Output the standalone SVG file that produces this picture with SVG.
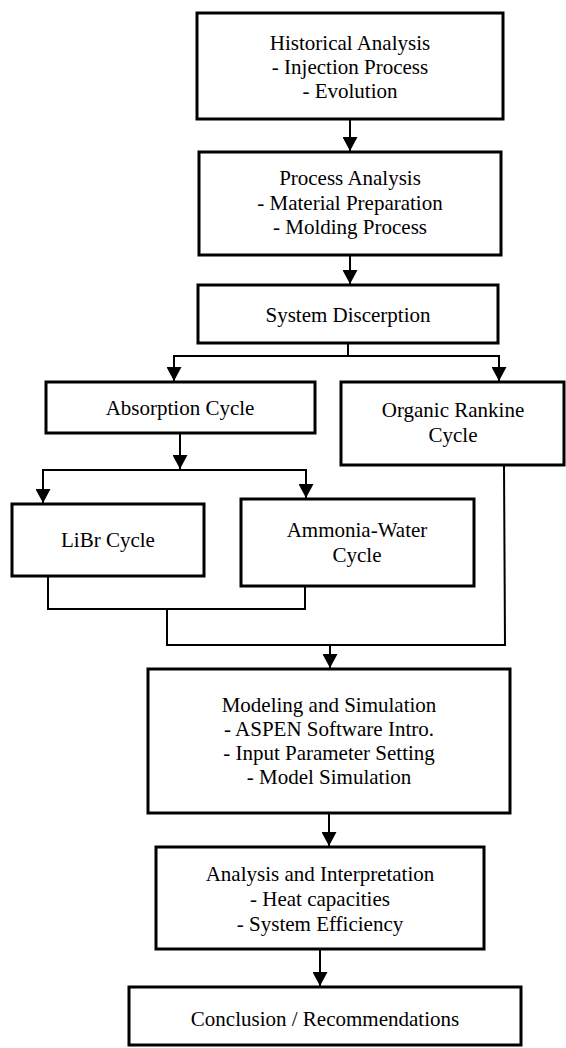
<svg xmlns="http://www.w3.org/2000/svg" width="566" height="1048" viewBox="0 0 566 1048">
<style>
.box{fill:#fff;stroke:#000;stroke-width:3}
.t{font-family:"Liberation Serif","Times New Roman",serif;font-size:21px;fill:#000;text-anchor:middle}
.c{fill:none;stroke:#000;stroke-width:2}
</style>
<defs>
<marker id="ah" markerUnits="userSpaceOnUse" viewBox="0 0 14 15" refX="14" refY="7.5" markerWidth="14" markerHeight="15" orient="auto">
<path d="M0,0 L14,7.5 L0,15 z" fill="#000"/>
</marker>
</defs>
<rect width="566" height="1048" fill="#fff"/>
<g id="connectors">
<line class="c" x1="350" y1="119" x2="350" y2="151" marker-end="url(#ah)"/>
<line class="c" x1="350" y1="255" x2="350" y2="284" marker-end="url(#ah)"/>
<polyline class="c" points="348,343 348,356"/>
<polyline class="c" points="174,370 174,356 499,356 499,370"/>
<line class="c" x1="174" y1="357" x2="174" y2="381" marker-end="url(#ah)"/>
<line class="c" x1="499" y1="357" x2="499" y2="381" marker-end="url(#ah)"/>
<line class="c" x1="180" y1="433" x2="180" y2="469" marker-end="url(#ah)"/>
<polyline class="c" points="43,490 43,470 306,470 306,490"/>
<line class="c" x1="43" y1="471" x2="43" y2="503" marker-end="url(#ah)"/>
<line class="c" x1="306" y1="471" x2="306" y2="498" marker-end="url(#ah)"/>
<polyline class="c" points="48,576 48,609 305,609 305,586"/>
<polyline class="c" points="167,609 167,645 505,645 504,465"/>
<line class="c" x1="330" y1="645" x2="330" y2="668" marker-end="url(#ah)"/>
<line class="c" x1="329" y1="813" x2="329" y2="846" marker-end="url(#ah)"/>
<line class="c" x1="320" y1="949" x2="320" y2="986" marker-end="url(#ah)"/>
</g>
<g id="historical">
<rect class="box" x="197" y="13" width="306" height="106"/>
<text class="t" x="350" y="50">Historical Analysis</text>
<text class="t" x="350" y="74">- Injection Process</text>
<text class="t" x="350" y="98">- Evolution</text>
</g>
<g id="process">
<rect class="box" x="199" y="152" width="302" height="103"/>
<text class="t" x="350" y="185">Process Analysis</text>
<text class="t" x="350" y="210">- Material Preparation</text>
<text class="t" x="350" y="234">- Molding Process</text>
</g>
<g id="system">
<rect class="box" x="198" y="285" width="300" height="58"/>
<text class="t" x="348" y="322">System Discerption</text>
</g>
<g id="absorption">
<rect class="box" x="46" y="382" width="269" height="51"/>
<text class="t" x="180" y="415">Absorption Cycle</text>
</g>
<g id="orc">
<rect class="box" x="341" y="382" width="223" height="83"/>
<text class="t" x="453" y="417">Organic Rankine</text>
<text class="t" x="453" y="442">Cycle</text>
</g>
<g id="libr">
<rect class="box" x="12" y="504" width="192" height="72"/>
<text class="t" x="108" y="547">LiBr Cycle</text>
</g>
<g id="ammonia">
<rect class="box" x="241" y="499" width="233" height="87"/>
<text class="t" x="357" y="537">Ammonia-Water</text>
<text class="t" x="357" y="562">Cycle</text>
</g>
<g id="modeling">
<rect class="box" x="148" y="669" width="362" height="144"/>
<text class="t" x="329" y="712">Modeling and Simulation</text>
<text class="t" x="329" y="736">- ASPEN Software Intro.</text>
<text class="t" x="329" y="760">- Input Parameter Setting</text>
<text class="t" x="329" y="784">- Model Simulation</text>
</g>
<g id="analysis">
<rect class="box" x="156" y="847" width="328" height="102"/>
<text class="t" x="320" y="881">Analysis and Interpretation</text>
<text class="t" x="320" y="906">- Heat capacities</text>
<text class="t" x="320" y="931">- System Efficiency</text>
</g>
<g id="conclusion">
<rect class="box" x="129" y="987" width="392" height="58"/>
<text class="t" x="325" y="1026">Conclusion / Recommendations</text>
</g>
</svg>
